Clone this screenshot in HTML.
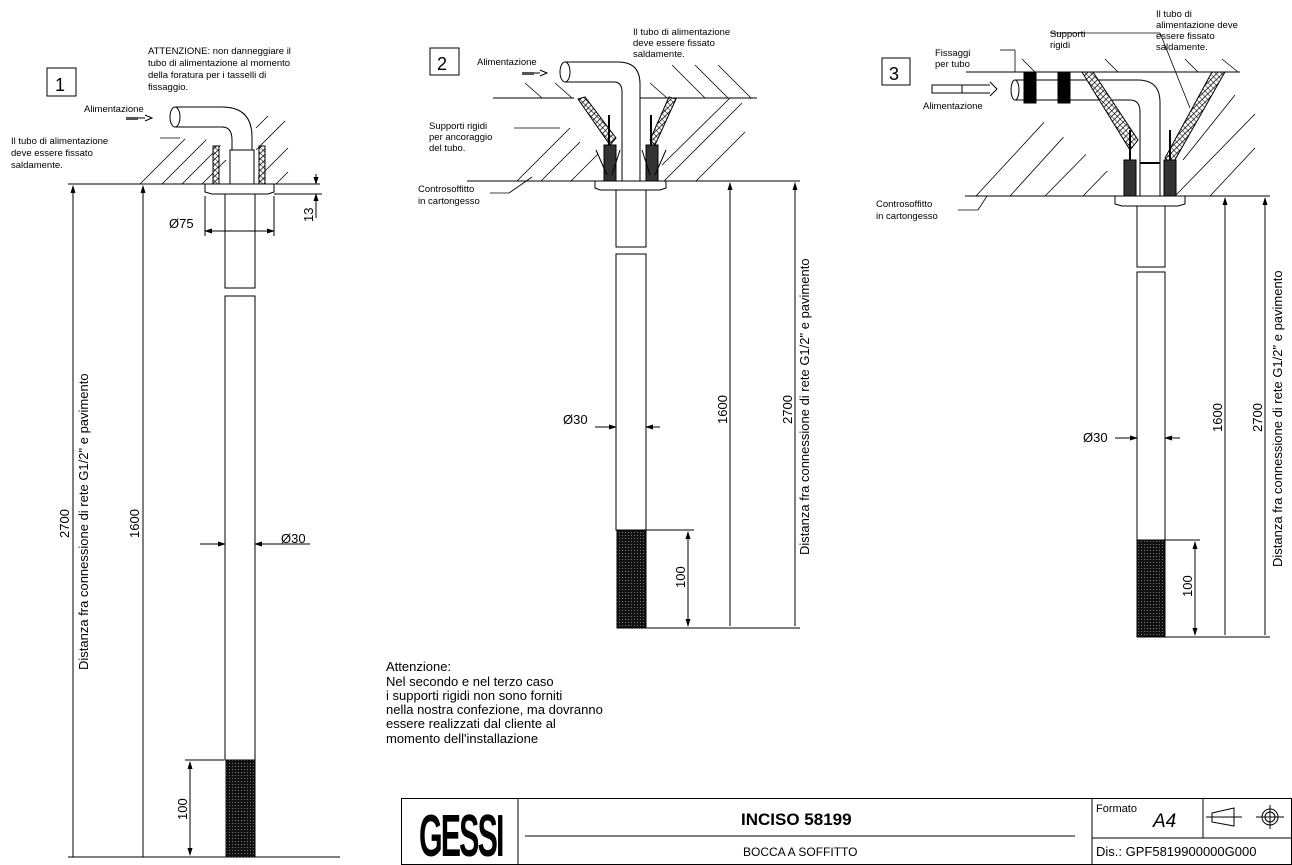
<!DOCTYPE html>
<html><head><meta charset="utf-8"><style>
html,body{margin:0;padding:0;background:#fff}
svg{display:block}
text{font-family:"Liberation Sans",sans-serif;fill:#000}
</style></head><body>
<svg width="1292" height="865" viewBox="0 0 1292 865" xmlns="http://www.w3.org/2000/svg">
<defs>
<pattern id="kn" width="3" height="3" patternUnits="userSpaceOnUse"><rect width="3" height="3" fill="#111"/><rect x="1" y="1" width="1" height="1" fill="#777"/></pattern>
<pattern id="hx" width="4" height="4" patternUnits="userSpaceOnUse" patternTransform="rotate(45)"><rect width="4" height="4" fill="#fff"/><line x1="0" y1="0" x2="0" y2="4" stroke="#000" stroke-width="1.5"/><line x1="0" y1="0" x2="4" y2="0" stroke="#000" stroke-width="1"/></pattern>
<marker id="a" markerWidth="8" markerHeight="8" refX="7" refY="4" orient="auto-start-reverse" markerUnits="userSpaceOnUse"><path d="M0,1.5 L8,4 L0,6.5Z" fill="#000"/></marker>
</defs>
<g stroke="#000" fill="none" stroke-width="1">

<!-- ===== Drawing 1 ===== -->
<rect x="47" y="68" width="29" height="28"/>
<line x1="68" y1="184" x2="320" y2="184"/>
<g stroke-width="0.8">
<line x1="140" y1="184" x2="185" y2="139"/><line x1="162" y1="184" x2="210" y2="136"/>
<line x1="182" y1="184" x2="225" y2="141"/><line x1="202" y1="184" x2="226" y2="160"/>
<line x1="256" y1="128" x2="268" y2="116"/><line x1="256" y1="150" x2="285" y2="121"/>
<line x1="258" y1="178" x2="288" y2="148"/><line x1="276" y1="184" x2="288" y2="172"/>
<line x1="160" y1="138" x2="180" y2="138"/>
</g>
<path d="M175,107 L222,107 Q252,107 252,137 L252,150 M175,127 L222,127 Q232,127 232,140 L232,150" fill="#fff"/>
<ellipse cx="175" cy="117" rx="5" ry="10" fill="#fff"/>
<rect x="230" y="150" width="24" height="34" fill="#fff"/>
<rect x="213" y="146" width="6" height="38" fill="url(#hx)"/>
<rect x="259" y="146" width="6" height="38" fill="url(#hx)"/>
<path d="M205,184 L274,184 L274,192 L268,194 L212,194 L205,192Z" fill="#fff"/>
<rect x="225" y="194" width="30" height="94" fill="#fff"/>
<rect x="225" y="296" width="30" height="464" fill="#fff"/>
<rect x="226" y="760" width="29" height="97" fill="url(#kn)"/>
<path d="M126,118 L145,118 M145,115 L152,118 L145,121" />
<rect x="126" y="117" width="12" height="3" fill="#555" stroke="none"/>
<line x1="68" y1="857" x2="340" y2="857"/>
<line x1="73" y1="857" x2="73" y2="186" marker-end="url(#a)"/>
<line x1="143" y1="857" x2="143" y2="186" marker-end="url(#a)"/>
<line x1="185" y1="760" x2="224" y2="760"/>
<line x1="190" y1="762" x2="190" y2="855" marker-start="url(#a)" marker-end="url(#a)"/>
<line x1="205" y1="196" x2="205" y2="236"/><line x1="274" y1="196" x2="274" y2="236"/>
<line x1="205" y1="231" x2="274" y2="231" marker-start="url(#a)" marker-end="url(#a)"/>
<line x1="200" y1="544" x2="225" y2="544" marker-end="url(#a)"/>
<line x1="255" y1="544" x2="310" y2="544" marker-start="url(#a)"/>
<line x1="274" y1="194" x2="322" y2="194"/>
<line x1="316" y1="174" x2="316" y2="184" marker-end="url(#a)"/>
<line x1="316" y1="218" x2="316" y2="194" marker-end="url(#a)"/>

<!-- ===== Drawing 2 ===== -->
<rect x="430" y="48" width="29" height="27"/>
<line x1="493" y1="98" x2="757" y2="98"/>
<line x1="467" y1="181" x2="800" y2="181"/>
<g stroke-width="0.8">
<line x1="525" y1="83" x2="542" y2="98"/><line x1="555" y1="83" x2="572" y2="98"/><line x1="590" y1="83" x2="607" y2="98"/>
<line x1="650" y1="83" x2="667" y2="98"/><line x1="672" y1="65" x2="705" y2="98"/><line x1="695" y1="65" x2="728" y2="98"/><line x1="718" y1="65" x2="751" y2="98"/>
<line x1="517" y1="181" x2="570" y2="128"/><line x1="541" y1="181" x2="580" y2="142"/><line x1="571" y1="181" x2="598" y2="154"/>
<line x1="662" y1="165" x2="730" y2="98"/><line x1="664" y1="181" x2="742" y2="103"/><line x1="696" y1="181" x2="745" y2="132"/>
<line x1="514" y1="128" x2="560" y2="128"/><line x1="509" y1="193" x2="532" y2="177"/><line x1="509" y1="193" x2="490" y2="193"/>
</g>
<path d="M565,62 L618,62 Q640,62 640,84 L640,181 M565,82 L614,82 Q622,82 622,92 L622,181" fill="#fff"/>
<ellipse cx="565" cy="72" rx="5" ry="10" fill="#fff"/>
<path d="M578,99 L610,145 L616,138 L585,97Z" fill="url(#hx)"/>
<path d="M676,99 L655,145 L650,140 L669,97Z" fill="url(#hx)"/>
<g fill="#333"><rect x="604" y="145" width="12" height="36"/><rect x="646" y="145" width="12" height="36"/></g>
<line x1="609" y1="115" x2="609" y2="145" stroke-width="2"/><line x1="651" y1="115" x2="651" y2="145" stroke-width="2"/>
<path d="M596,150 L607,175 M620,150 L612,175 M642,150 L650,175 M666,150 L655,175"/>
<path d="M595,181 L666,181 L666,188 L660,190 L600,190 L595,188Z" fill="#fff"/>
<rect x="616" y="190" width="30" height="57" fill="#fff"/>
<rect x="616" y="254" width="30" height="276" fill="#fff"/>
<rect x="617" y="530" width="29" height="98" fill="url(#kn)"/>
<path d="M522,73 L540,73 M540,70 L547,73 L540,76"/>
<rect x="522" y="72" width="12" height="3" fill="#555" stroke="none"/>
<line x1="646" y1="628" x2="800" y2="628"/>
<line x1="646" y1="530" x2="694" y2="530"/>
<line x1="688" y1="532" x2="688" y2="626" marker-start="url(#a)" marker-end="url(#a)"/>
<line x1="730" y1="626" x2="730" y2="183" marker-end="url(#a)"/>
<line x1="795" y1="626" x2="795" y2="183" marker-end="url(#a)"/>
<line x1="595" y1="427" x2="616" y2="427" marker-end="url(#a)"/>
<line x1="646" y1="427" x2="660" y2="427" marker-start="url(#a)"/>

<!-- ===== Drawing 3 ===== -->
<rect x="882" y="58" width="28" height="27"/>
<line x1="966" y1="72" x2="1240" y2="72"/>
<line x1="965" y1="196" x2="1270" y2="196"/>
<g stroke-width="0.8">
<line x1="1022" y1="59" x2="1035" y2="72"/><line x1="1105" y1="59" x2="1118" y2="72"/><line x1="1185" y1="59" x2="1198" y2="72"/><line x1="1222" y1="59" x2="1238" y2="72"/>
<line x1="976" y1="196" x2="1060" y2="105"/><line x1="1010" y1="196" x2="1090" y2="108"/><line x1="1045" y1="196" x2="1110" y2="130"/><line x1="1083" y1="196" x2="1118" y2="160"/>
<line x1="1175" y1="196" x2="1255" y2="114"/><line x1="1210" y1="196" x2="1255" y2="148"/><line x1="1183" y1="160" x2="1235" y2="95"/>
<line x1="1050" y1="33" x2="1160" y2="33"/><line x1="1160" y1="33" x2="1190" y2="108"/>
<line x1="1000" y1="50" x2="1015" y2="50"/><line x1="1015" y1="50" x2="1015" y2="72"/>
<line x1="958" y1="210" x2="978" y2="210"/><line x1="978" y1="210" x2="987" y2="196"/>
</g>
<path d="M1015,80 L1138,80 Q1160,80 1160,102 L1160,196 M1015,100 L1130,100 Q1140,100 1140,112 L1140,196" fill="#fff"/>
<ellipse cx="1015" cy="90" rx="4" ry="10" fill="#fff"/>
<path d="M1082,72 L1130,150 L1138,140 L1093,72Z" fill="url(#hx)"/>
<path d="M1225,72 L1172,165 L1165,158 L1212,72Z" fill="url(#hx)"/>
<rect x="1024" y="72" width="12" height="31" fill="#000"/><rect x="1058" y="72" width="12" height="31" fill="#000"/>
<g fill="#333"><rect x="1124" y="160" width="12" height="36"/><rect x="1164" y="160" width="12" height="36"/></g>
<line x1="1130" y1="130" x2="1130" y2="160" stroke-width="2"/><line x1="1170" y1="130" x2="1170" y2="160" stroke-width="2"/>
<line x1="1140" y1="163" x2="1160" y2="163" stroke-width="2"/>
<path d="M1115,196 L1185,196 L1185,204 L1178,206 L1122,206 L1115,204Z" fill="#fff"/>
<rect x="1137" y="206" width="28" height="61" fill="#fff"/>
<rect x="1137" y="272" width="28" height="268" fill="#fff"/>
<rect x="1137" y="540" width="28" height="97" fill="url(#kn)"/>
<rect x="932" y="85" width="30" height="8"/>
<path d="M962,85 L990,85 M990,82 L997,89 L990,96 M962,93 L990,93"/>
<line x1="1165" y1="637" x2="1270" y2="637"/>
<line x1="1165" y1="540" x2="1200" y2="540"/>
<line x1="1195" y1="542" x2="1195" y2="635" marker-start="url(#a)" marker-end="url(#a)"/>
<line x1="1225" y1="635" x2="1225" y2="198" marker-end="url(#a)"/>
<line x1="1265" y1="635" x2="1265" y2="198" marker-end="url(#a)"/>
<line x1="1115" y1="438" x2="1137" y2="438" marker-end="url(#a)"/>
<line x1="1165" y1="438" x2="1180" y2="438" marker-start="url(#a)"/>

<!-- ===== Title block ===== -->
<rect x="401.5" y="798.5" width="890" height="66"/>
<line x1="518" y1="798" x2="518" y2="865"/>
<line x1="1092" y1="798" x2="1092" y2="865"/>
<line x1="1203" y1="798" x2="1203" y2="838"/>
<line x1="1092" y1="838" x2="1292" y2="838"/>
<line x1="525" y1="836" x2="1075" y2="836"/>
<path d="M1212,813 L1234,808 L1234,826 L1212,822Z M1206,817 L1242,817" />
<circle cx="1270" cy="817" r="8"/><circle cx="1270" cy="817" r="5"/>
<line x1="1256" y1="817" x2="1284" y2="817"/><line x1="1270" y1="805" x2="1270" y2="829"/>
</g>

<g font-size="9.5">
<text x="148" y="54">ATTENZIONE: non danneggiare il</text>
<text x="148" y="66">tubo di alimentazione al momento</text>
<text x="148" y="78">della foratura per i tasselli di</text>
<text x="148" y="90">fissaggio.</text>
<text x="84" y="112">Alimentazione</text>
<text x="11" y="144">Il tubo di alimentazione</text>
<text x="11" y="156">deve essere fissato</text>
<text x="11" y="168">saldamente.</text>
<text x="633" y="35">Il tubo di alimentazione</text>
<text x="633" y="46">deve essere fissato</text>
<text x="633" y="57">saldamente.</text>
<text x="477" y="65">Alimentazione</text>
<text x="429" y="129">Supporti rigidi</text>
<text x="429" y="140">per ancoraggio</text>
<text x="429" y="151">del tubo.</text>
<text x="418" y="192">Controsoffitto</text>
<text x="418" y="204">in cartongesso</text>
<text x="1156" y="17">Il tubo di</text>
<text x="1156" y="28">alimentazione deve</text>
<text x="1156" y="39">essere fissato</text>
<text x="1156" y="50">saldamente.</text>
<text x="1050" y="37">Supporti</text>
<text x="1050" y="48">rigidi</text>
<text x="935" y="56">Fissaggi</text>
<text x="935" y="67">per tubo</text>
<text x="923" y="109">Alimentazione</text>
<text x="876" y="207">Controsoffitto</text>
<text x="876" y="219">in cartongesso</text>
</g>
<g font-size="18"><text x="55" y="91">1</text><text x="437" y="70">2</text><text x="889" y="80">3</text></g>
<g font-size="13">
<text x="169" y="228">Ø75</text>
<text x="281" y="543">Ø30</text>
<text x="563" y="424">Ø30</text>
<text x="1083" y="442">Ø30</text>
<text transform="translate(313,222) rotate(-90)">13</text>
<text transform="translate(69,538) rotate(-90)">2700</text>
<text transform="translate(139,538) rotate(-90)">1600</text>
<text transform="translate(187,820) rotate(-90)">100</text>
<text transform="translate(88,670) rotate(-90)">Distanza fra connessione di rete G1/2" e pavimento</text>
<text transform="translate(727,424) rotate(-90)">1600</text>
<text transform="translate(792,424) rotate(-90)">2700</text>
<text transform="translate(685,588) rotate(-90)">100</text>
<text transform="translate(809,555) rotate(-90)">Distanza fra connessione di rete G1/2" e pavimento</text>
<text transform="translate(1222,432) rotate(-90)">1600</text>
<text transform="translate(1262,432) rotate(-90)">2700</text>
<text transform="translate(1192,597) rotate(-90)">100</text>
<text transform="translate(1282,567) rotate(-90)">Distanza fra connessione di rete G1/2" e pavimento</text>
<text x="386" y="671">Attenzione:</text>
<text x="386" y="686">Nel secondo e nel terzo caso</text>
<text x="386" y="700">i supporti rigidi non sono forniti</text>
<text x="386" y="714">nella nostra confezione, ma dovranno</text>
<text x="386" y="728">essere realizzati dal cliente al</text>
<text x="386" y="743">momento dell'installazione</text>
<text x="743" y="856" font-size="12">BOCCA A SOFFITTO</text>
<text x="1096" y="856" font-size="13">Dis.: GPF5819900000G000</text>
<text x="1096" y="812" font-size="11">Formato</text>
</g>
<text x="741" y="825" font-size="17" font-weight="bold">INCISO 58199</text>
<text x="1153" y="827" font-size="19" font-style="italic">A4</text>
<text x="0" y="0" font-size="66" font-weight="bold" letter-spacing="-4" transform="translate(419,856) scale(0.46,0.9)">GESSI</text>
</svg>
</body></html>
